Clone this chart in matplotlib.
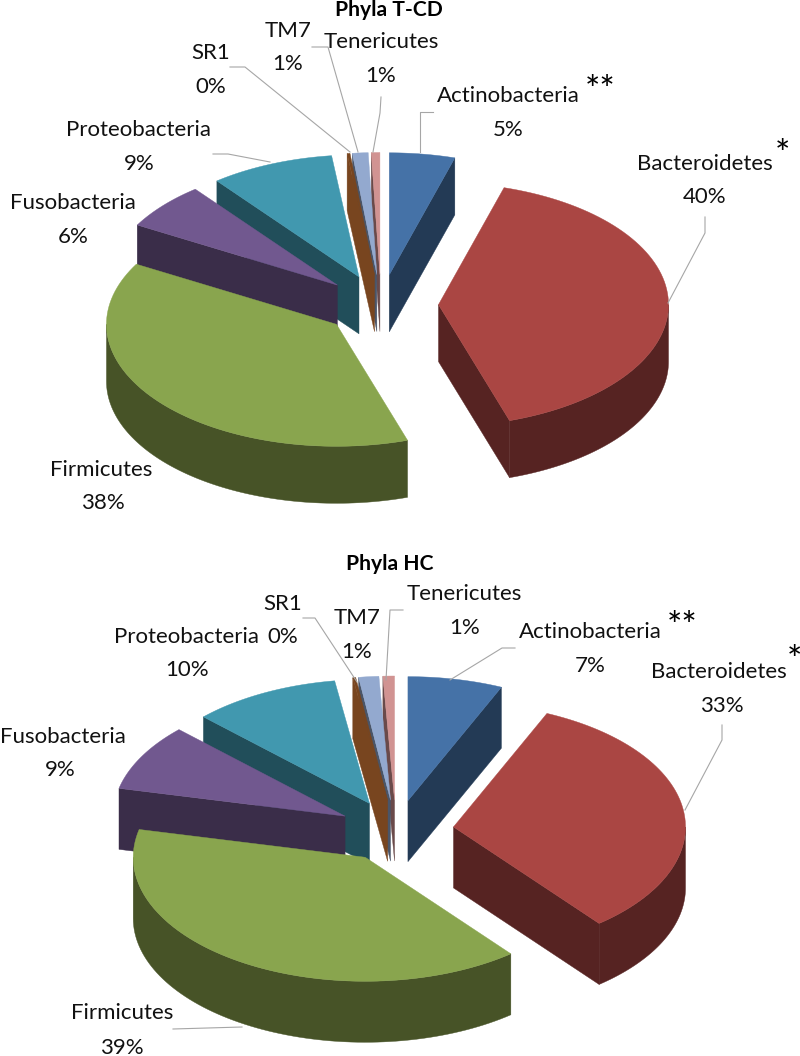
import numpy as np
import matplotlib
matplotlib.use('Agg')
import matplotlib.pyplot as plt
from matplotlib.patches import Polygon

plt.rcParams['font.family'] = ['Lato', 'DejaVu Sans']

phyla = ['Actinobacteria', 'Bacteroidetes', 'Firmicutes', 'Fusobacteria',
         'Proteobacteria', 'SR1', 'TM7', 'Tenericutes']
tcd_values = [4.6, 40.4, 38.2, 6.2, 8.7, 0.2, 1.1, 0.6]
hc_values = [6.6, 32.6, 39.4, 8.7, 10.3, 0.2, 1.4, 0.8]

top_colors = ['#4572A7', '#AA4643', '#89A54E', '#71588F', '#4198AF', '#78451F', '#93A9CF', '#D19392']
side_colors = ['#233A55', '#562322', '#475327', '#3A2D49', '#214E5A', '#78451F', '#4A5568', '#6A4A4A']
draw_order = [0, 7, 6, 5, 4, 3, 2, 1]

# pie geometry in pixels
tcd_pie = dict(cx=381, cy=305, rx=230, ry=122, depth=57, explode=0.25)
hc_pie = dict(cx=396, cy=831, rx=232, ry=124, depth=61, explode=0.25)

# name x, name y, percent x, percent y
tcd_labels = [(508, 96, 508, 130), (705, 164, 705, 197), (101, 470, 103, 503), (73, 203, 73, 237),
              (139, 130, 139, 164), (211, 53, 211, 87), (288, 31, 288, 64), (381, 42, 381, 76)]
hc_labels = [(590, 632, 590, 666), (719, 672, 722, 706), (122, 1013, 122, 1048), (63, 737, 60, 770),
             (186, 637, 187, 670), (283, 604, 283, 637), (357, 618, 357, 652), (464, 594, 465, 628)]

tcd_leaders = [[(433, 112), (420, 112), (420, 152)], [(705, 217), (705, 233), (668, 303)],
               [(213, 154), (228, 154), (270, 162)], [(230, 67), (245, 67), (350, 152)],
               [(312, 47), (328, 47), (358, 152)], [(381, 97), (380, 113), (373, 152)]]
hc_leaders = [[(515, 648), (502, 648), (450, 680)], [(722, 725), (722, 740), (685, 810)],
              [(173, 1029), (242, 1027)], [(303, 618), (315, 618), (357, 682)],
              [(403, 610), (390, 610), (386, 680)]]


def rim(theta, rx, ry):
    return rx * np.sin(theta), -ry * np.cos(theta)


def fill(ax, pts, color):
    ax.add_patch(Polygon(pts, fc=color, ec=color, lw=0.3, zorder=2))


def draw_pie(ax, values, pie):
    cx, cy, rx, ry = pie['cx'], pie['cy'], pie['rx'], pie['ry']
    d = pie['depth']
    edges = np.cumsum([0] + values) / sum(values) * 2 * np.pi
    for i in draw_order:
        t0, t1 = edges[i], edges[i + 1]
        mid = (t0 + t1) / 2
        ox, oy = rim(mid, rx * pie['explode'], ry * pie['explode'])
        ax0, ay0 = cx + ox, cy + oy
        # radial side faces
        if np.sin(t1) > 0:
            x, y = rim(t1, rx, ry)
            fill(ax, [(ax0, ay0), (ax0 + x, ay0 + y), (ax0 + x, ay0 + y + d), (ax0, ay0 + d)], side_colors[i])
        if np.sin(t0) < 0:
            x, y = rim(t0, rx, ry)
            fill(ax, [(ax0, ay0), (ax0 + x, ay0 + y), (ax0 + x, ay0 + y + d), (ax0, ay0 + d)], side_colors[i])
        # outer wall
        t = np.linspace(max(t0, np.pi / 2), min(t1, 3 * np.pi / 2), 80)
        if t[-1] > t[0]:
            x, y = rim(t, rx, ry)
            px = np.r_[ax0 + x, (ax0 + x)[::-1]]
            py = np.r_[ay0 + y, (ay0 + y)[::-1] + d]
            fill(ax, np.c_[px, py], side_colors[i])
        # top face
        t = np.linspace(t0, t1, 80)
        x, y = rim(t, rx, ry)
        fill(ax, np.c_[np.r_[ax0, ax0 + x], np.r_[ay0, ay0 + y]], top_colors[i])


def draw_labels(ax, values, labels, leaders):
    for name, v, (nx, ny, px, py) in zip(phyla, values, labels):
        ax.text(nx, ny, name, ha='center', va='center', fontsize=16, color='#111111')
        ax.text(px, py, f'{round(v)}%', ha='center', va='center', fontsize=16, color='#111111')
    for pts in leaders:
        xs, ys = zip(*pts)
        ax.plot(xs, ys, color='#a6a6a6', lw=0.8, zorder=3)


fig = plt.figure(figsize=(8, 10.56), dpi=100)
ax = fig.add_axes([0, 0, 1, 1])
ax.set_xlim(0, 800)
ax.set_ylim(1056, 0)
ax.axis('off')

draw_pie(ax, tcd_values, tcd_pie)
draw_pie(ax, hc_values, hc_pie)
draw_labels(ax, tcd_values, tcd_labels, tcd_leaders)
draw_labels(ax, hc_values, hc_labels, hc_leaders)

ax.text(389, 10, 'Phyla T-CD', ha='center', va='center', fontsize=15.2, fontweight='bold')
ax.text(390, 564, 'Phyla HC', ha='center', va='center', fontsize=15.2, fontweight='bold')
ax.text(600, 92, '**', ha='center', va='center', fontsize=26)
ax.text(782, 155, '*', ha='center', va='center', fontsize=26)
ax.text(682, 627, '**', ha='center', va='center', fontsize=26)
ax.text(794, 661, '*', ha='center', va='center', fontsize=26)

fig.savefig('out.png', dpi=100)
